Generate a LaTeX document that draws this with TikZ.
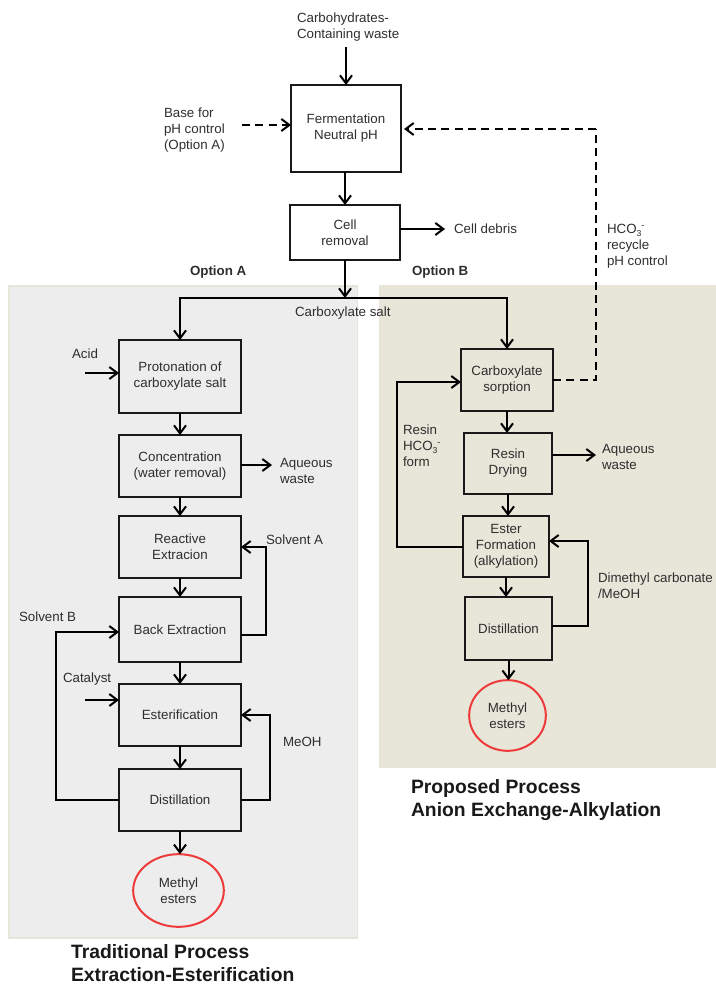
\documentclass[tikz,border=0pt]{standalone}
\usepackage{fontspec}
\setmainfont{Liberation Sans}
\usetikzlibrary{arrows.meta,shapes.geometric}
\definecolor{txt}{HTML}{2E2E2E}
\definecolor{panelA}{HTML}{EDEDED}
\definecolor{panelB}{HTML}{E7E6D9}
\definecolor{panelEdge}{HTML}{E6E6D8}
\definecolor{esterred}{HTML}{EE3A3A}
\newcommand{\bicarb}{HCO\raisebox{-1.6pt}{\fontsize{6.5}{7}\selectfont 3}\raisebox{4pt}{\fontsize{7}{7}\selectfont -}}
\tikzset{
  x=0.75pt,y=-0.75pt,
  every node/.style={font=\fontsize{10}{12}\selectfont,text=txt,inner sep=0pt,outer sep=0pt},
  procbox/.style={draw=black!90,line width=1.5pt,align=center},
  lab/.style={anchor=west,align=left,yshift=-0.9pt},
  opt/.style={font=\fontsize{10}{12}\selectfont\bfseries},
  heading/.style={anchor=west,align=left,text=black!90,font=\fontsize{14.5}{17.3}\selectfont\bfseries},
  product/.style={draw=esterred,line width=1.5pt,ellipse,align=center},
  flow/.style={draw=black,line width=1.5pt,-{Straight Barb[length=6pt,width=9pt,line width=1.5pt]}},
  plainline/.style={draw=black,line width=1.5pt},
  dashflow/.style={flow,dash pattern=on 6pt off 4pt},
  dashline/.style={plainline,dash pattern=on 6pt off 4pt},
}
\newcommand{\pbox}[6]{%
  \pgfmathsetmacro{\pw}{(#4-#2)*0.75}%
  \pgfmathsetmacro{\ph}{(#5-#3)*0.75}%
  \node[procbox,minimum width=\pw pt,minimum height=\ph pt] (#1) at ({(#2+#4)/2},{(#3+#5)/2}) {#6};}
\begin{document}
\begin{tikzpicture}
\useasboundingbox (0,0) rectangle (716,985);
% panels
\fill[panelA,draw=panelEdge,line width=0.8pt] (9,286) rectangle (357.5,938);
\fill[panelB] (379,285) rectangle (716,768);
% top boxes
\pbox{ferm}{291}{85}{401}{172}{Fermentation\\Neutral pH}
\pbox{cell}{290}{205}{400}{260}{Cell\\removal}
% left column
\pbox{prot}{119}{340}{241}{413}{Protonation of\\carboxylate salt}
\pbox{conc}{119}{435}{241}{497}{Concentration\\(water removal)}
\pbox{reac}{119}{516}{241}{578}{Reactive\\Extracion}
\pbox{back}{119}{597}{241}{662}{Back Extraction}
\pbox{este}{119}{684}{241}{746}{Esterification}
\pbox{distA}{119}{769}{241}{831}{Distillation}
\node[product,minimum width=68pt,minimum height=54.5pt] (prodA) at (178.5,890.5) {Methyl\\esters};
% right column
\pbox{sorp}{461}{349}{553}{411}{Carboxylate\\sorption}
\pbox{dry}{464}{433}{552}{494}{Resin\\Drying}
\pbox{form}{463}{516}{549}{577}{Ester\\Formation\\(alkylation)}
\pbox{distB}{465}{597}{552}{660}{Distillation}
\node[product,minimum width=57.5pt,minimum height=53pt] (prodB) at (507.5,715.5) {Methyl\\esters};
% labels
\node[lab] (carb) at (297,26) {Carbohydrates-\\Containing waste};
\node[lab] (base) at (164,129) {Base for\\pH control\\(Option A)};
\node[lab] (debris) at (454,228) {Cell debris};
\node[lab] (hco) at (607,245.5) {\bicarb\\recycle\\pH control};
\node[opt,anchor=west] (optA) at (190,272) {Option A};
\node[opt,anchor=west] (optB) at (412,272) {Option B};
\node[lab] (salt) at (295,312) {Carboxylate salt};
\node[lab] (acid) at (72,353) {Acid};
\node[lab] (aqA) at (280,469.5) {Aqueous\\waste};
\node[lab] (solA) at (266,539) {Solvent A};
\node[lab] (solB) at (19,616) {Solvent B};
\node[lab] (cata) at (63,678) {Catalyst};
\node[lab] (meoh) at (283,741) {MeOH};
\node[lab] (resin) at (403,445) {Resin\\\bicarb\\form};
\node[lab] (aqB) at (602,456) {Aqueous\\waste};
\node[lab] (dmc) at (598,585) {Dimethyl carbonate\\/MeOH};
\node[heading] (titleA) at (71,963.5) {Traditional Process\\Extraction-Esterification};
\node[heading] (titleB) at (411,800) {Proposed Process\\Anion Exchange-Alkylation};
% free ends and bends
\coordinate (carbEnd) at (346,47);
\coordinate (baseEnd) at (242,125);
\coordinate (debrisEnd) at (445,229);
\coordinate (split) at (345,298);
\coordinate (splitR) at (507,298);
\coordinate (acidEnd) at (85,373);
\coordinate (aqAEnd) at (272,465);
\coordinate (catEnd) at (85,700);
\coordinate (aqBEnd) at (596,455);
\coordinate (dashStart) at (553,380);
\coordinate (dashC1) at (596,380);
\coordinate (dashC2) at (596,129);
\coordinate (dashEnd) at (404,129);
\coordinate (rA1) at (266,635);
\coordinate (rA2) at (266,547);
\coordinate (rB1) at (56,800);
\coordinate (rB2) at (56,632);
\coordinate (rC1) at (270,800);
\coordinate (rC2) at (270,715);
\coordinate (rD1) at (397,547);
\coordinate (rD2) at (397,382);
\coordinate (rE1) at (588,626);
\coordinate (rE2) at (588,541);
% connectors: top
\draw[flow] (carbEnd) -- (ferm.north -| carbEnd);
\draw[dashflow] (baseEnd) -- (ferm.west |- baseEnd);
\draw[flow] (ferm.south -| split) -- (cell.north -| split);
\draw[flow] (cell.east |- debrisEnd) -- (debrisEnd);
\draw[flow] (cell.south -| split) -- (split);
\draw[flow] (split) -- (split -| prot.north) -- (prot.north);
\draw[flow] (split) -- (splitR) -- (sorp.north -| splitR);
% recycle
\draw[dashline] (dashStart) -- (dashC1) -- (dashC2);
\draw[dashflow] (dashC2) -- (dashEnd);
% left column
\draw[flow] (acidEnd) -- (prot.west |- acidEnd);
\draw[flow] (prot.south) -- (conc.north);
\draw[flow] (conc.east |- aqAEnd) -- (aqAEnd);
\draw[flow] (conc.south) -- (reac.north);
\draw[flow] (reac.south) -- (back.north);
\draw[flow] (back.south) -- (este.north);
\draw[flow] (este.south) -- (distA.north);
\draw[flow] (distA.south) -- (prodA.north -| distA.south);
\draw[flow] (back.east |- rA1) -- (rA1) -- (rA2) -- (reac.east |- rA2);
\draw[flow] (distA.west |- rB1) -- (rB1) -- (rB2) -- (back.west |- rB2);
\draw[flow] (catEnd) -- (este.west |- catEnd);
\draw[flow] (distA.east |- rC1) -- (rC1) -- (rC2) -- (este.east |- rC2);
% right column
\draw[flow] (sorp.south) -- (dry.north -| sorp.south);
\draw[flow] (dry.east |- aqBEnd) -- (aqBEnd);
\draw[flow] (dry.south) -- (form.north -| dry.south);
\draw[flow] (form.south) -- (distB.north -| form.south);
\draw[flow] (distB.south) -- (prodB.north -| distB.south);
\draw[flow] (form.west |- rD1) -- (rD1) -- (rD2) -- (sorp.west |- rD2);
\draw[flow] (distB.east |- rE1) -- (rE1) -- (rE2) -- (form.east |- rE2);
\end{tikzpicture}
\end{document}
